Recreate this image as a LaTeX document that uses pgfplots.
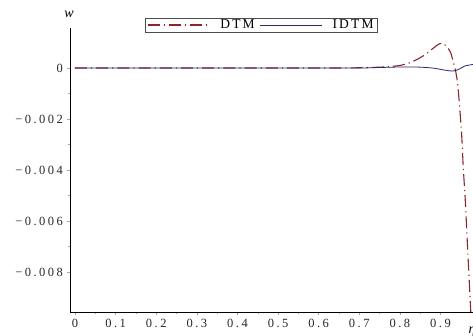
\documentclass[border=0pt]{standalone}
\usepackage{fontspec}
\setmainfont{Liberation Serif}
\newfontfamily\tickf[LetterSpace=20]{Liberation Serif}
\newfontfamily\legf[LetterSpace=16]{Liberation Serif}
\usepackage{pgfplots}
\pgfplotsset{compat=1.18}
\pgfplotsset{longleg/.style={legend image code/.code={\draw[##1] (0pt,0pt) -- (62pt,0pt);}}}
\definecolor{dtm}{RGB}{140,38,42}
\definecolor{idtm}{RGB}{40,42,110}
\begin{document}
\begin{tikzpicture}
\useasboundingbox (-70pt,-24pt) rectangle (403pt,312pt);
\begin{axis}[
  name=ax, at={(0,0)}, anchor=south west,
  scale only axis, width=403pt, height=284pt,
  xmin=-0.0123, xmax=0.980,
  ymin=-0.00957, ymax=0.00157,
  axis x line=bottom, axis y line=left,
  axis line style={-, black, line width=0.8pt},
  xtick={0,0.1,0.2,0.3,0.4,0.5,0.6,0.7,0.8,0.9},
  xticklabels={0,0.1,0.2,0.3,0.4,0.5,0.6,0.7,0.8,0.9},
  ytick={-0.008,-0.006,-0.004,-0.002,0},
  yticklabels={−0.008,−0.006,−0.004,−0.002,0},
  scaled y ticks=false, scaled x ticks=false,
  minor x tick num=1, minor y tick num=1,
  tick align=outside,
  major tick length=3pt, minor tick length=2pt,
  tick style={black!35, line width=0.5pt},
  ticklabel style={font=\tickf\fontsize{12.5}{14}\selectfont, black!85},
  xticklabel style={yshift=-0.5pt},
  yticklabel style={xshift=-0.5pt},
  legend style={at={(0.475,1.0106)}, anchor=center, draw=black!70, line width=0.6pt,
    font=\legf\fontsize{13.5}{14}\selectfont, inner xsep=2pt, inner ysep=0pt,
    legend columns=2,
    /tikz/every odd column/.append style={column sep=8pt},
    /tikz/every even column/.append style={column sep=3pt}},
  clip=true,
]
\addplot[dtm, line width=1.1pt, dash pattern=on 12pt off 4pt on 1.2pt off 4pt, smooth, tension=0.4, longleg] coordinates {
(0,0) (0.1,0) (0.2,0) (0.3,0) (0.4,0) (0.5,0) (0.6,0) (0.68,0.000005)
(0.72,0.00002) (0.76,0.00004) (0.80,0.0001) (0.83,0.00024) (0.86,0.0005)
(0.88,0.00075) (0.895,0.00093) (0.905,0.00097) (0.915,0.00085) (0.925,0.0006)
(0.932,0.0002) (0.937,-0.0001) (0.942,-0.0006) (0.947,-0.0015) (0.952,-0.0026)
(0.956,-0.0039) (0.961,-0.0052) (0.965,-0.0065) (0.969,-0.0078) (0.973,-0.0091)
(0.976,-0.0100) (0.98,-0.0115)
};
\addlegendentry{DTM}
\addplot[idtm, line width=0.8pt, smooth, tension=0.5, longleg] coordinates {
(0,0) (0.1,0) (0.2,0) (0.3,0) (0.4,0) (0.5,0) (0.6,0) (0.7,0) (0.75,0.00002)
(0.8,0.00004) (0.84,0.00004) (0.88,0.0) (0.91,-0.00008) (0.93,-0.00012)
(0.945,-0.00005) (0.96,0.00008) (0.98,0.00014)
};
\addlegendentry{IDTM}
\end{axis}
\node[font=\fontsize{14}{15}\selectfont\itshape] at (-1pt,298pt) {w};
\node[font=\fontsize{14}{15}\selectfont\itshape] at (402pt,-20pt) {η};
\end{tikzpicture}
\end{document}
